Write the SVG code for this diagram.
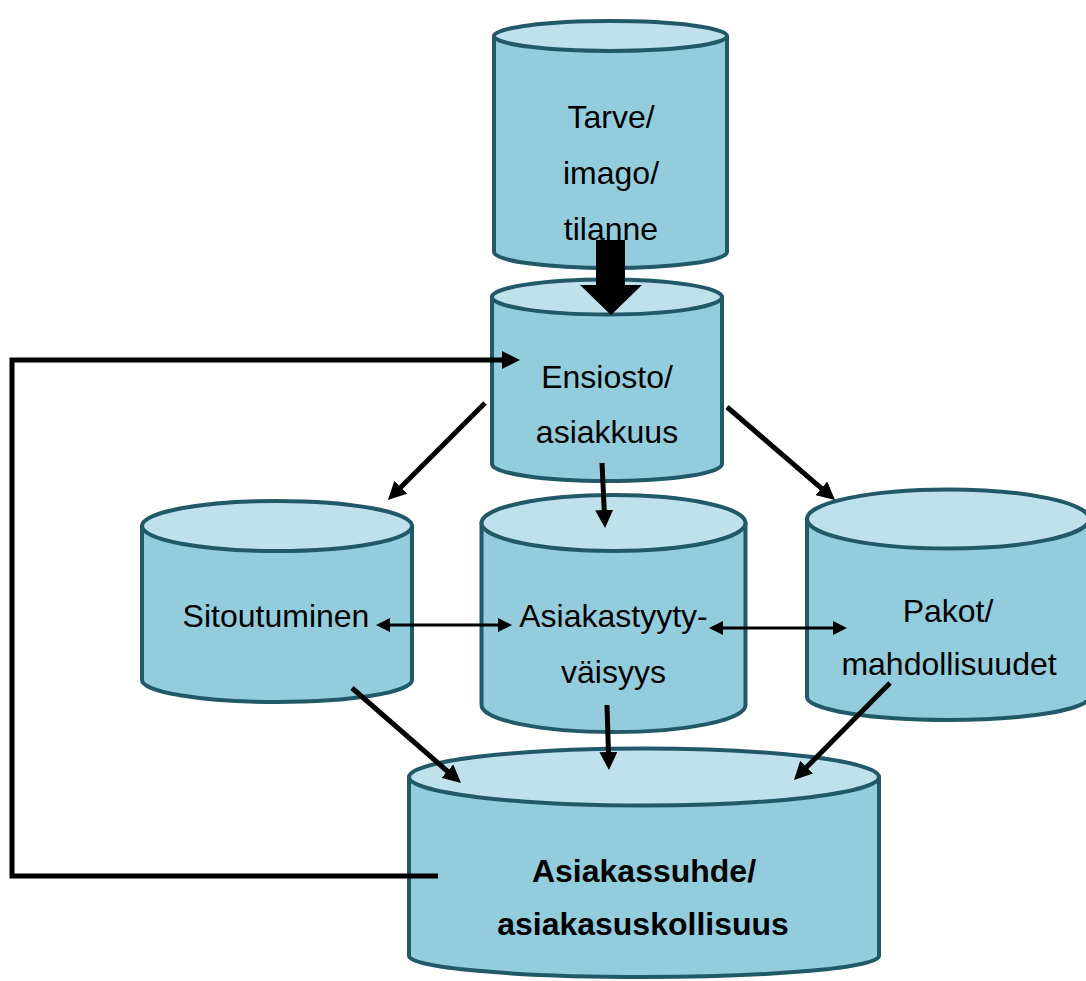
<svg xmlns="http://www.w3.org/2000/svg" width="1086" height="981" viewBox="0 0 1086 981">
  <style>
    .body { fill: #93CDDD; stroke: #215968; stroke-width: 4; stroke-linejoin: round; }
    .top { fill: #BEE1EB; stroke: #215968; stroke-width: 4; }
    .label { font-family: "Liberation Sans", Arial, sans-serif; font-size: 32px; fill: #000; text-anchor: middle; }
    .bold { font-weight: bold; }
    .link { fill: none; stroke: #000; stroke-width: 5; }
    .link-thin { fill: none; stroke: #000; stroke-width: 3; }
  </style>
  <defs>
    <marker id="head" viewBox="0 0 18 18" refX="2" refY="9" markerWidth="18" markerHeight="18" markerUnits="userSpaceOnUse" orient="auto-start-reverse">
      <path d="M0,0 L18,9 L0,18 Z" fill="#000"/>
    </marker>
    <marker id="head-small" viewBox="0 0 14 14" refX="2" refY="7" markerWidth="14" markerHeight="14" markerUnits="userSpaceOnUse" orient="auto-start-reverse">
      <path d="M0,0 L14,7 L0,14 Z" fill="#000"/>
    </marker>
  </defs>

  <!-- Cylinders: body first, then the lighter top ellipse -->
  <g id="tarve">
    <path class="body" d="M494,36 L494,252 A116.5,16 0 0 0 727,252 L727,36 Z"/>
    <ellipse class="top" cx="610.5" cy="36" rx="116.5" ry="15"/>
    <text class="label" x="611" y="128">Tarve/</text>
    <text class="label" x="611" y="184">imago/</text>
    <text class="label" x="611" y="240">tilanne</text>
  </g>

  <g id="ensiosto">
    <path class="body" d="M492,297 L492,464 A115,17 0 0 0 722,464 L722,297 Z"/>
    <ellipse class="top" cx="607" cy="297" rx="115" ry="17.5"/>
    <text class="label" x="607" y="388">Ensiosto/</text>
    <text class="label" x="607" y="443">asiakkuus</text>
  </g>

  <g id="sitoutuminen">
    <path class="body" d="M142,526 L142,680 A135,22 0 0 0 412,680 L412,526 Z"/>
    <ellipse class="top" cx="277" cy="526" rx="135" ry="25"/>
    <text class="label" x="276" y="627">Sitoutuminen</text>
  </g>

  <g id="asiakastyytyvaisyys">
    <path class="body" d="M481.5,523 L481.5,705 A132,27 0 0 0 745.5,705 L745.5,523 Z"/>
    <ellipse class="top" cx="613.5" cy="523" rx="132" ry="28"/>
    <text class="label" x="613.5" y="627">Asiakastyyty-</text>
    <text class="label" x="613.5" y="683">väisyys</text>
  </g>

  <g id="pakot">
    <path class="body" d="M807,519 L807,697 A141,23 0 0 0 1089,697 L1089,519 Z"/>
    <ellipse class="top" cx="948" cy="519" rx="141" ry="29.5"/>
    <text class="label" x="948" y="622">Pakot/</text>
    <text class="label" x="949" y="675">mahdollisuudet</text>
  </g>

  <g id="asiakassuhde">
    <path class="body" d="M409,777 L409,956 A235,21 0 0 0 879,956 L879,777 Z"/>
    <ellipse class="top" cx="644" cy="777" rx="235" ry="28.5"/>
    <text class="label bold" x="644" y="882">Asiakassuhde/</text>
    <text class="label bold" x="643" y="935">asiakasuskollisuus</text>
  </g>

  <!-- Connectors -->
  <g id="connectors">
    <polygon points="596,240 625,240 625,285 642,285 611,315 580,285 596,285" fill="#000"/>
    <path class="link" d="M438,876 H12 V360 H504" marker-end="url(#head)"/>
    <line class="link" x1="485" y1="403" x2="399.3" y2="488.7" marker-end="url(#head)"/>
    <line class="link" x1="602" y1="463" x2="604.3" y2="512" marker-end="url(#head)"/>
    <line class="link" x1="727" y1="407" x2="822.9" y2="489.6" marker-end="url(#head)"/>
    <line class="link" x1="352" y1="688" x2="448.9" y2="772.5" marker-end="url(#head)"/>
    <line class="link" x1="607" y1="705" x2="608.5" y2="754" marker-end="url(#head)"/>
    <line class="link" x1="890" y1="683" x2="805.2" y2="768.6" marker-end="url(#head)"/>
    <line class="link-thin" x1="388" y1="625" x2="500" y2="625" marker-start="url(#head-small)" marker-end="url(#head-small)"/>
    <line class="link-thin" x1="721" y1="628" x2="835" y2="628" marker-start="url(#head-small)" marker-end="url(#head-small)"/>
  </g>
</svg>
